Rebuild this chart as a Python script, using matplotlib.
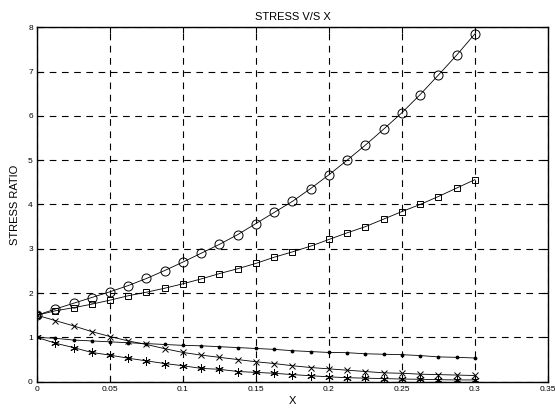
import numpy as np
import matplotlib
matplotlib.use("Agg")
import matplotlib.pyplot as plt

plt.rcParams['font.family'] = ['Liberation Sans', 'DejaVu Sans']

x = [i * 0.0125 for i in range(25)]

circles = [1.50, 1.64, 1.77, 1.90, 2.03, 2.17, 2.33, 2.51, 2.70, 2.90, 3.10, 3.32,
           3.57, 3.82, 4.07, 4.36, 4.67, 5.00, 5.34, 5.70, 6.07, 6.48, 6.92, 7.37, 7.85]
squares = [1.50, 1.60, 1.67, 1.75, 1.84, 1.94, 2.02, 2.11, 2.21, 2.32, 2.44, 2.55,
           2.67, 2.81, 2.93, 3.06, 3.21, 3.36, 3.50, 3.67, 3.84, 4.00, 4.18, 4.37, 4.56]
crosses = [1.50, 1.38, 1.26, 1.13, 1.02, 0.92, 0.84, 0.745, 0.66, 0.60, 0.55, 0.50,
           0.45, 0.41, 0.36, 0.32, 0.29, 0.26, 0.23, 0.20, 0.19, 0.17, 0.16, 0.15, 0.14]
dots = [1.00, 0.98, 0.94, 0.92, 0.90, 0.88, 0.86, 0.84, 0.82, 0.81, 0.79, 0.77,
        0.75, 0.73, 0.70, 0.68, 0.66, 0.655, 0.63, 0.62, 0.61, 0.59, 0.56, 0.55, 0.535]
stars = [1.00, 0.87, 0.77, 0.66, 0.60, 0.53, 0.47, 0.41, 0.36, 0.30, 0.28, 0.23,
         0.21, 0.19, 0.16, 0.135, 0.11, 0.09, 0.08, 0.07, 0.06, 0.055, 0.045, 0.04, 0.04]

xticks = [0, 0.05, 0.1, 0.15, 0.2, 0.25, 0.3, 0.35]
xticklabels = ['0', '0.05', '0.1', '0.15', '0.2', '0.25', '0.3', '0.35']
yticks = [0, 1, 2, 3, 4, 5, 6, 7, 8]

fig = plt.figure(figsize=(5.55, 4.11), dpi=100)
ax = fig.add_axes([0.0667, 0.0713, 0.9203, 0.8623])

lw = 0.6
ax.plot(x, circles, 'k-', marker='o', ms=6.5, mfc='none', mew=0.7, lw=lw)
ax.plot(x, squares, 'k-', marker='s', ms=4.8, mfc='none', mew=0.7, lw=lw)
ax.plot(x, crosses, 'k-', marker='x', ms=5, mew=0.7, lw=lw)
ax.plot(x, dots, 'k-', marker='.', ms=3.5, lw=lw)
ax.plot(x, stars, 'k-', marker=(6, 2, 0), ms=6, mew=0.7, lw=lw)

ax.set_xlim(0, 0.35)
ax.set_ylim(0, 8)
ax.set_xticks(xticks)
ax.set_xticklabels(xticklabels)
ax.set_yticks(yticks)
ax.tick_params(direction='in', length=4, width=0.8, labelsize=6, top=True, right=True,
               colors='black', pad=3)
ax.grid(True, color='black', linestyle=(0, (6, 5)), linewidth=0.8)
for s in ax.spines.values():
    s.set_linewidth(1.0)
    s.set_color('black')

ax.set_title('STRESS V/S X', fontsize=8, pad=5)
ax.set_xlabel('X', fontsize=8, labelpad=2)
ax.set_ylabel('STRESS RATIO', fontsize=8, labelpad=6)

fig.savefig('out.png', dpi=100)
